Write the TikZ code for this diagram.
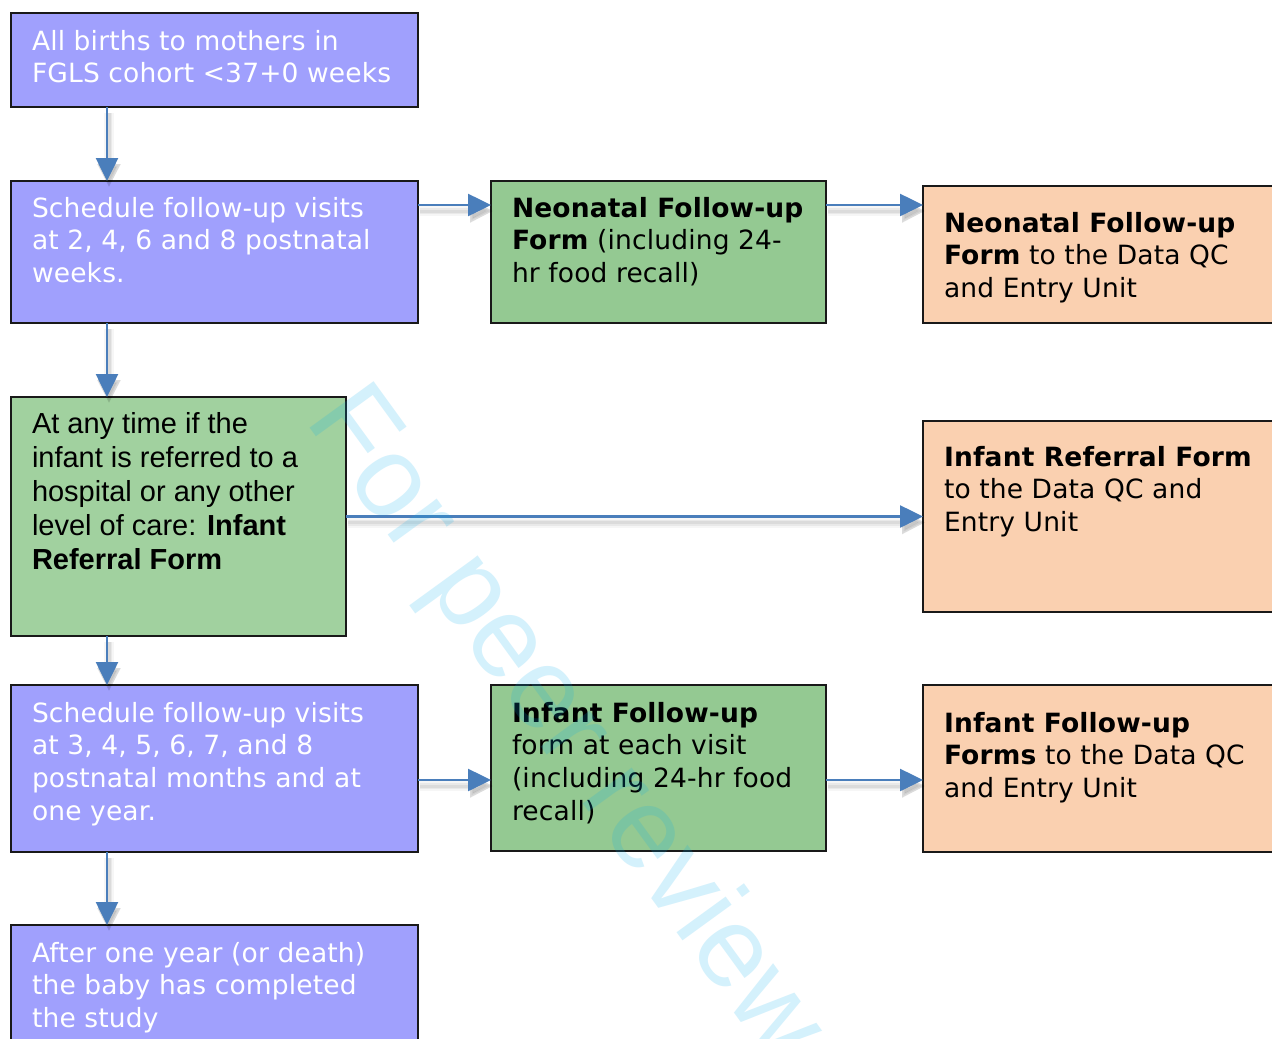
\documentclass[tikz,border=0pt]{standalone}
\usepackage{fontspec}
\setmainfont{DejaVu Sans}[LetterSpace=0.6]
\newfontfamily\arialfont{Liberation Sans}
\usetikzlibrary{arrows.meta}

\definecolor{boxpurple}{RGB}{160,160,253}
\definecolor{boxgreen}{RGB}{148,201,146}
\definecolor{boxgreenlt}{RGB}{161,209,159}
\definecolor{boxorange}{RGB}{250,208,176}
\definecolor{flowblue}{RGB}{74,126,187}
\definecolor{markcyan}{RGB}{0,174,239}

\tikzset{
  box/.style={draw=black!90, line width=2pt, inner sep=0pt, outer sep=0pt,
    rectangle, anchor=north west},
  purplebox/.style={box, fill=boxpurple},
  greenbox/.style={box, fill=boxgreen},
  greenltbox/.style={box, fill=boxgreenlt},
  orangebox/.style={box, fill=boxorange},
  label/.style={anchor=base west, inner sep=0pt, outer sep=0pt,
    font=\fontsize{26.5}{32.7}\selectfont},
  whitelabel/.style={label, text=white},
  blacklabel/.style={label, text=black},
  arlabel/.style={anchor=base west, inner sep=0pt, outer sep=0pt, text=black,
    font=\arialfont\fontsize{29}{34}\selectfont},
  flow/.style={draw=flowblue, line width=2.6pt,
    -{Triangle[length=23pt,width=22pt]}},
  flowshade/.style={draw=black, -{Triangle[length=23pt,width=22pt]}},
}

% arrow with a soft drop shadow
\newcommand\flowlink[2]{%
  \begin{scope}[transform canvas={shift={(2pt,-6pt)}}]
    \draw[flowshade, line width=10pt, draw opacity=0.035, fill opacity=0.035] #1 -- #2;
    \draw[flowshade, line width=6pt, draw opacity=0.05, fill opacity=0.05] #1 -- #2;
    \draw[flowshade, line width=3pt, draw opacity=0.06, fill opacity=0.06] #1 -- #2;
  \end{scope}
  \draw[flow] #1 -- #2;}

\newcommand\boxtext[1]{\parbox[t]{600pt}{#1}}

\begin{document}
\begin{tikzpicture}[x=1pt, y=-1pt]
  \useasboundingbox (0,0) rectangle (1272,1039);
  \clip (0,0) rectangle (1272,1039);
  \fill[white] (0,0) rectangle (1272,1039);

  % boxes
  \node[purplebox, minimum width=407, minimum height=94]  (A) at (11,13)  {};
  \node[purplebox, minimum width=407, minimum height=142] (B) at (11,181) {};
  \node[greenbox,  minimum width=335, minimum height=142] (C) at (491,181) {};
  \node[orangebox, minimum width=362, minimum height=137] (D) at (923,186) {};
  \node[greenltbox, minimum width=335, minimum height=239] (E) at (11,397) {};
  \node[orangebox, minimum width=362, minimum height=191] (F) at (923,421) {};
  \node[purplebox, minimum width=407, minimum height=167] (G) at (11,685) {};
  \node[greenbox,  minimum width=335, minimum height=166] (H) at (491,685) {};
  \node[orangebox, minimum width=362, minimum height=167] (I) at (923,685) {};
  \node[purplebox, minimum width=407, minimum height=140] (J) at (11,925) {};

  % box texts
  \node[whitelabel] (tA) at (32,50) {\boxtext{All births to mothers in\\FGLS cohort <37+0 weeks}};
  \node[whitelabel] (tB) at (32,217) {\boxtext{Schedule follow-up visits\\at 2, 4, 6 and 8 postnatal\\weeks.}};
  \node[blacklabel] (tC) at (512,217) {\boxtext{\textbf{Neonatal Follow-up}\\\textbf{Form} (including 24-\\hr food recall)}};
  \node[blacklabel] (tD) at (944,232) {\boxtext{\textbf{Neonatal Follow-up}\\\textbf{Form} to the Data QC\\and Entry Unit}};
  \node[arlabel] (tE) at (32,433) {\boxtext{At any time if the\\infant is referred to a\\hospital or any other\\level of care: \textbf{Infant}\\\textbf{Referral Form}}};
  \node[blacklabel] (tF) at (944,466) {\boxtext{\textbf{Infant Referral Form}\\to the Data QC and\\Entry Unit}};
  \node[whitelabel] (tG) at (32,722) {\boxtext{Schedule follow-up visits\\at 3, 4, 5, 6, 7, and 8\\postnatal months and at\\one year.}};
  \node[blacklabel] (tH) at (512,722) {\boxtext{\textbf{Infant Follow-up}\\form at each visit\\(including 24-hr food\\recall)}};
  \node[blacklabel] (tI) at (944,732) {\boxtext{\textbf{Infant Follow-up}\\\textbf{Forms} to the Data QC\\and Entry Unit}};
  \node[whitelabel] (tJ) at (32,962) {\boxtext{After one year (or death)\\the baby has completed\\the study}};

  % connector guides
  \coordinate (vx) at (107,0);
  \coordinate (h1) at (0,205);
  \coordinate (h2) at (0,780);

  % vertical flow
  \flowlink{(A.south -| vx)}{(B.north -| vx)}
  \flowlink{(B.south -| vx)}{(E.north -| vx)}
  \flowlink{(E.south -| vx)}{(G.north -| vx)}
  \flowlink{(G.south -| vx)}{(J.north -| vx)}

  % horizontal flow
  \flowlink{(B.east |- h1)}{(C.west |- h1)}
  \flowlink{(C.east |- h1)}{(D.west |- h1)}
  \flowlink{(E.east)}{(E.east -| F.west)}
  \flowlink{(G.east |- h2)}{(H.west |- h2)}
  \flowlink{(H.east |- h2)}{(I.west |- h2)}

  % watermark
  \node[anchor=base west, inner sep=0pt, rotate=-54, text=markcyan, text opacity=0.17,
    font=\arialfont\fontsize{115}{120}\selectfont] (wm) at (304,420) {For peer review};
\end{tikzpicture}
\end{document}
